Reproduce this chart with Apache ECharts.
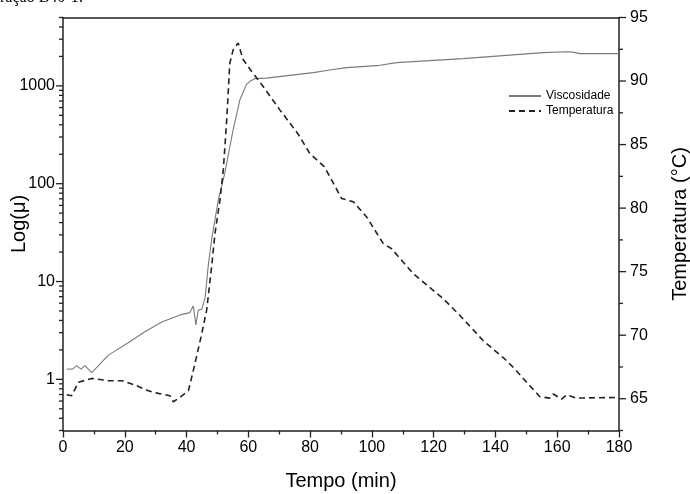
<!DOCTYPE html>
<html>
<head>
<meta charset="utf-8">
<script src="https://cdn.jsdelivr.net/npm/echarts@6/dist/echarts.min.js"></script>
<style>html,body{margin:0;padding:0;background:#fff;}#c{width:690px;height:494px;}</style>
</head>
<body>
<div id="c"></div>
<script>
// ---- data ----
const timeVisc = [1.2,3.2,4.4,5.8,7.1,9.3,14.7,21.1,26.5,32,37.9,41.1,42.2,43.0,43.8,44.9,46.0,47.0,48.1,49.2,50.3,52.4,55.1,57.3,59.4,60.8,62.1,65.9,81,86.4,91.8,102.6,108,129.5,155.4,162.8,165.1,167.3,180];
const viscValues = [1.27,1.28,1.38,1.27,1.38,1.17,1.77,2.37,3.07,3.85,4.56,4.81,5.64,3.6,5.1,5.2,6.8,14.3,26.7,42.9,68.7,129,358,727,1036,1130,1185,1200,1365,1452,1536,1622,1729,1901,2188,2230,2213,2138,2138];
const timeTemp = [1.2,2.8,5.0,9.3,14.7,19.0,23.3,27.6,30.8,34.6,35.7,37.9,40.6,42.7,44.9,46.5,48.1,49.2,50.8,51.9,53.0,54.0,55.1,56.7,58.3,61.1,64.8,70.2,76.2,79.9,84.6,90.2,94.0,98.3,103.7,106.4,113.4,123.1,128.5,136.0,143.0,146.3,150.1,154.4,157.6,158.7,161.4,163.0,166.2,180];
const tempValues = [65.32,65.24,66.29,66.6,66.42,66.42,66.08,65.63,65.42,65.24,64.76,65.1,65.63,67.74,70.1,71.95,75.36,78.0,80.63,83.0,86.94,91.4,92.47,93.0,91.7,90.75,89.57,87.73,85.8,84.3,83.26,80.76,80.5,79.3,77.2,76.8,74.84,72.87,71.55,69.58,68.13,67.34,66.29,65.16,65.05,65.37,64.97,65.3,65.05,65.1];
const seriesNames = ['Viscosidade', 'Temperatura'];
const logMajorTicks = [1, 10, 100, 1000];
const logMinorTicks = [0.3,0.4,0.5,0.6,0.7,0.8,0.9,2,3,4,5,6,7,8,9,20,30,40,50,60,70,80,90,200,300,400,500,600,700,800,900,2000,3000,4000,5000];
const tempMajorTicks = [65,70,75,80,85,90,95];
const tempMinorTicks = [62.5,67.5,72.5,77.5,82.5,87.5,92.5];

const zip = (a, b) => a.map((v, i) => [v, b[i]]);
const AX = '#222';
const FONT = 'Liberation Sans, Arial, sans-serif';

function tickSeries(yIdx, xEdge, vals, len) {
  return {
    type: 'custom', xAxisIndex: 0, yAxisIndex: yIdx, silent: true, clip: false, z: 10,
    data: vals.map(v => [xEdge, v, len]),
    encode: {x: 0, y: 1},
    renderItem: function (params, api) {
      const p = api.coord([api.value(0), api.value(1)]);
      const l = api.value(2);
      const dir = api.value(0) === 0 ? -1 : 1;
      return {type: 'line', shape: {x1: p[0], y1: p[1], x2: p[0] + dir * l, y2: p[1]},
              style: {stroke: AX, lineWidth: 1.3}};
    }
  };
}

const chart = echarts.init(document.getElementById('c'), null, {renderer: 'canvas'});
chart.setOption({
  animation: false,
  textStyle: {fontFamily: FONT},
  graphic: [{type: 'text', left: 0, top: -10, style: {text: 'ração B40-1:', fontSize: 16, fontFamily: 'Liberation Serif, Times New Roman, serif', fill: '#000'}}],
  grid: {left: 63, right: 71, top: 17.5, bottom: 63.5, containLabel: false, outerBoundsMode: 'none'},
  legend: {
    data: seriesNames, orient: 'vertical', left: 503, top: 85, itemWidth: 32, itemHeight: 8, itemGap: 3,
    textStyle: {fontSize: 12, color: '#000', fontFamily: FONT},
    itemStyle: {opacity: 0}
  },
  xAxis: [{
    type: 'value', min: 0, max: 180, interval: 20, position: 'bottom',
    axisLine: {show: true, onZero: false, lineStyle: {color: AX, width: 1.5}},
    axisTick: {show: true, length: 7, lineStyle: {color: AX, width: 1.3}},
    minorTick: {show: true, splitNumber: 2, length: 4, lineStyle: {color: AX, width: 1.3}},
    splitLine: {show: false},
    axisLabel: {fontSize: 16, color: '#000', margin: 9, fontFamily: FONT},
    name: 'Tempo (min)', nameLocation: 'middle', nameGap: 41, nameMoveOverlap: false,
    nameTextStyle: {fontSize: 20, color: '#000', fontFamily: FONT}
  }, {
    type: 'value', min: 0, max: 180, position: 'top',
    axisLine: {show: true, onZero: false, lineStyle: {color: AX, width: 1.5}},
    axisTick: {show: false}, axisLabel: {show: false}, splitLine: {show: false}
  }],
  yAxis: [{
    type: 'log', logBase: 10, min: 0.3, max: 5000, position: 'left',
    axisLine: {show: true, onZero: false, lineStyle: {color: AX, width: 1.5}},
    axisTick: {show: false}, splitLine: {show: false}, minorTick: {show: false},
    axisLabel: {fontSize: 16, color: '#000', margin: 8, fontFamily: FONT, showMinLabel: false, showMaxLabel: false,
      formatter: v => (logMajorTicks.some(m => Math.abs(m - v) < 1e-6 * m) ? String(Math.round(v)) : '')},
    name: 'Log(μ)', nameLocation: 'middle', nameGap: 34, nameRotate: 90, nameMoveOverlap: false,
    nameTextStyle: {fontSize: 20, color: '#000', fontFamily: FONT}
  }, {
    type: 'value', min: 62.5, max: 95, interval: 2.5, position: 'right',
    axisLine: {show: true, onZero: false, lineStyle: {color: AX, width: 1.5}},
    axisTick: {show: false}, splitLine: {show: false},
    axisLabel: {fontSize: 16, color: '#000', margin: 11, fontFamily: FONT,
      formatter: v => (tempMajorTicks.indexOf(Math.round(v * 10) / 10) >= 0 ? String(v) : '')},
    name: 'Temperatura (°C)', nameLocation: 'middle', nameGap: 51, nameRotate: 90, nameMoveOverlap: false,
    nameTextStyle: {fontSize: 20, color: '#000', fontFamily: FONT}
  }],
  series: [{
    name: seriesNames[0], type: 'line', xAxisIndex: 0, yAxisIndex: 0, symbol: 'none', smooth: false,
    data: zip(timeVisc, viscValues),
    lineStyle: {color: '#7a7a7a', width: 1.1}, itemStyle: {color: '#7a7a7a', opacity: 0}
  }, {
    name: seriesNames[1], type: 'line', xAxisIndex: 0, yAxisIndex: 1, symbol: 'none', smooth: false,
    data: zip(timeTemp, tempValues),
    lineStyle: {color: '#222', width: 1.6, type: [6, 4]}, itemStyle: {color: '#222', opacity: 0}
  },
  tickSeries(0, 0, logMajorTicks, 7),
  tickSeries(0, 0, logMinorTicks, 4),
  tickSeries(1, 180, tempMajorTicks, 7),
  tickSeries(1, 180, tempMinorTicks, 4)
  ]
});
</script>
</body>
</html>
